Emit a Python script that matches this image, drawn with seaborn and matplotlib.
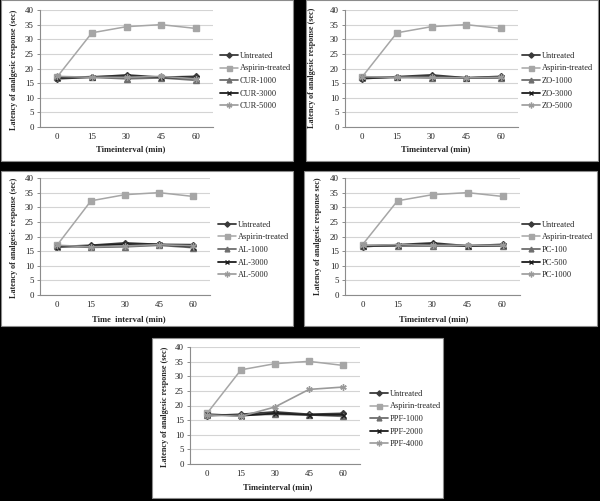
import matplotlib
matplotlib.use("Agg")
import matplotlib.pyplot as plt
from matplotlib.patches import Rectangle
import seaborn as sns
import pandas as pd

sns.set_style("white")
plt.rcParams['font.family'] = ['Liberation Serif', 'DejaVu Serif']

W, H = 600, 501

time_labels = ['0', '15', '30', '45', '60']
x_pos = [0, 1, 2, 3, 4]

# ---- Panel A: CUR ----
cur_untreated = [16.5, 17.0, 17.8, 17.0, 17.3]
cur_aspirin = [17.2, 32.2, 34.3, 35.0, 33.7]
cur_1000 = [17.0, 17.0, 16.5, 16.8, 16.0]
cur_3000 = [16.8, 17.2, 17.3, 17.0, 16.8]
cur_5000 = [17.3, 17.0, 17.0, 17.3, 16.5]

# ---- Panel B: ZO ----
zo_untreated = [16.5, 17.2, 17.8, 16.8, 17.3]
zo_aspirin = [17.2, 32.2, 34.3, 35.0, 33.7]
zo_1000 = [17.0, 17.0, 16.8, 16.8, 16.8]
zo_3000 = [16.8, 17.0, 17.2, 16.8, 17.0]
zo_5000 = [17.2, 17.0, 17.0, 16.8, 17.0]

# ---- Panel C: AL ----
al_untreated = [16.5, 17.0, 17.8, 17.3, 17.2]
al_aspirin = [17.0, 32.2, 34.3, 35.0, 33.7]
al_1000 = [16.8, 16.3, 16.5, 17.0, 16.2]
al_3000 = [16.5, 16.8, 17.3, 17.3, 16.5]
al_5000 = [17.0, 16.5, 16.8, 17.2, 16.8]

# ---- Panel D: PC ----
pc_untreated = [16.5, 17.2, 17.8, 16.8, 17.3]
pc_aspirin = [17.2, 32.2, 34.3, 35.0, 33.7]
pc_100 = [16.8, 16.8, 16.8, 16.8, 16.8]
pc_500 = [16.8, 17.0, 17.3, 16.8, 17.0]
pc_1000 = [17.0, 17.2, 17.0, 17.0, 17.0]

# ---- Panel E: PPF ----
ppf_untreated = [16.5, 17.0, 17.8, 17.0, 17.3]
ppf_aspirin = [17.3, 32.2, 34.3, 35.1, 33.7]
ppf_1000 = [16.8, 16.8, 17.0, 16.8, 16.3]
ppf_2000 = [17.0, 16.5, 17.3, 16.8, 16.8]
ppf_4000 = [16.8, 16.3, 19.5, 25.5, 26.3]

cur_names = ['Untreated', 'Aspirin-treated', 'CUR-1000', 'CUR-3000', 'CUR-5000']
zo_names = ['Untreated', 'Aspirin-treated', 'ZO-1000', 'ZO-3000', 'ZO-5000']
al_names = ['Untreated', 'Aspirin-treated', 'AL-1000', 'AL-3000', 'AL-5000']
pc_names = ['Untreated', 'Aspirin-treated', 'PC-100', 'PC-500', 'PC-1000']
ppf_names = ['Untreated', 'Aspirin-treated', 'PPF-1000', 'PPF-2000', 'PPF-4000']

ylabel_std = 'Latency of analgesic response (sec)'
ylabel_pc = 'Latency of analgesic response sec)'

# series styles (colour, marker, size, linewidth)
styles = [
    ('#3a3a3a', 'D', 3.0, 1.3),
    ('#a6a6a6', 's', 4.0, 1.1),
    ('#6e6e6e', '^', 3.8, 1.3),
    ('#1e1e1e', 'x', 3.6, 1.3),
    ('#9a9a9a', (6, 2, 0), 4.6, 1.2),
]

panels = [
    dict(rect=(1, 0, 293, 161), ax=(40, 10, 213, 127), leg=(220, 81),
         xl=(131, 149), yl=(14, 70), xlabel='Timeinterval (min)', ylabel=ylabel_std,
         names=cur_names, data=[cur_untreated, cur_aspirin, cur_1000, cur_3000, cur_5000]),
    dict(rect=(306, 0, 598, 161), ax=(345, 10, 518, 127), leg=(522, 81),
         xl=(436, 149), yl=(312, 68), xlabel='Timeinterval (min)', ylabel=ylabel_std,
         names=zo_names, data=[zo_untreated, zo_aspirin, zo_1000, zo_3000, zo_5000]),
    dict(rect=(1, 171, 293, 326), ax=(40, 178, 210, 295), leg=(218, 250),
         xl=(129, 319), yl=(14, 238), xlabel='Time  interval (min)', ylabel=ylabel_std,
         names=al_names, data=[al_untreated, al_aspirin, al_1000, al_3000, al_5000]),
    dict(rect=(304, 171, 597, 326), ax=(345, 178, 520, 295), leg=(522, 250),
         xl=(434, 319), yl=(318, 236), xlabel='Timeinterval (min)', ylabel=ylabel_pc,
         names=pc_names, data=[pc_untreated, pc_aspirin, pc_100, pc_500, pc_1000]),
    dict(rect=(152, 338, 443, 498), ax=(190, 347, 360, 464), leg=(370, 419),
         xl=(278, 487), yl=(165, 407), xlabel='Timeinterval (min)', ylabel=ylabel_std,
         names=ppf_names, data=[ppf_untreated, ppf_aspirin, ppf_1000, ppf_2000, ppf_4000]),
]

fig = plt.figure(figsize=(6.0, 5.01), dpi=100)
fig.patch.set_facecolor('black')


def fx(px):
    return px / W


def fy(py):
    return 1 - py / H


for p in panels:
    x0, y0, x1, y1 = p['rect']
    fig.patches.append(Rectangle((fx(x0), fy(y1)), (x1 - x0) / W, (y1 - y0) / H,
                                 transform=fig.transFigure, facecolor='white',
                                 edgecolor='#8c8c8c', linewidth=0.8, zorder=-5))
    a0, b0, a1, b1 = p['ax']
    ax = fig.add_axes([fx(a0), fy(b1), (a1 - a0) / W, (b1 - b0) / H])
    ax.set_facecolor('none')
    ax.patch.set_alpha(0)
    for name, vals, (c, m, ms, lw) in zip(p['names'], p['data'], styles):
        df = pd.DataFrame({'x': x_pos, 'y': vals})
        sns.lineplot(data=df, x='x', y='y', ax=ax, color=c, marker=m, markersize=ms,
                     markeredgecolor=c, markerfacecolor=c, markeredgewidth=1.0,
                     linewidth=lw, label=name, legend=False, sort=False)
    ax.set_xlim(-0.5, 4.5)
    ax.set_ylim(0, 40)
    ax.set_yticks(range(0, 41, 5))
    ax.set_xticks(x_pos)
    ax.set_xticklabels(time_labels)
    ax.grid(axis='y', color='#d4d4d4', linewidth=0.8)
    ax.grid(axis='x', visible=False)
    ax.set_axisbelow(True)
    for s in ['top', 'right']:
        ax.spines[s].set_visible(False)
    for s in ['left', 'bottom']:
        ax.spines[s].set_color('#8c8c8c')
        ax.spines[s].set_linewidth(0.8)
    ax.tick_params(axis='y', length=2.5, width=0.7, color='#8c8c8c', labelsize=6.4,
                   pad=2.0, labelcolor='#222222', left=True)
    ax.tick_params(axis='x', length=0, labelsize=6.4, pad=4.5, labelcolor='#222222')
    ax.set_xlabel(p['xlabel'], fontsize=6.1, fontweight='bold', va='center')
    ax.xaxis.set_label_coords(fx(p['xl'][0]), fy(p['xl'][1]), transform=fig.transFigure)
    ax.set_ylabel(p['ylabel'], fontsize=5.9, fontweight='bold', va='center')
    ax.yaxis.set_label_coords(fx(p['yl'][0]), fy(p['yl'][1]), transform=fig.transFigure)
    handles, labels = ax.get_legend_handles_labels()
    ax.legend(handles, labels, loc='center left',
              bbox_to_anchor=(fx(p['leg'][0]), fy(p['leg'][1])),
              bbox_transform=fig.transFigure, frameon=False, fontsize=6.0,
              borderpad=0, borderaxespad=0, handlelength=2.2, handletextpad=0.2,
              labelspacing=0.55, markerscale=0.9)

fig.savefig('out.png', dpi=100, facecolor='black')
